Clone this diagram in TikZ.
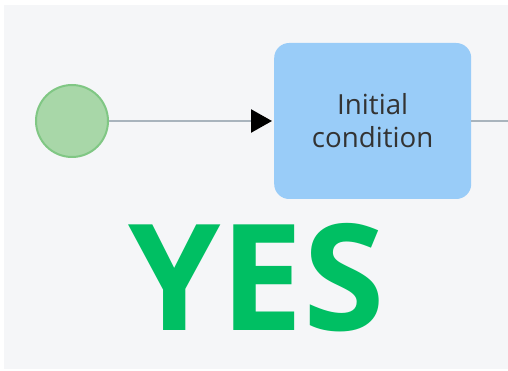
\documentclass[tikz,border=0pt]{standalone}
\usepackage{fontspec}
\setmainfont{Open Sans}
\usetikzlibrary{arrows.meta,positioning}
\definecolor{bgGrey}{HTML}{F5F6F8}
\definecolor{startFill}{HTML}{A8D7A8}
\definecolor{startDraw}{HTML}{80C784}
\definecolor{taskFill}{HTML}{99CCF8}
\definecolor{flowGrey}{HTML}{A9B4BD}
\definecolor{yesGreen}{HTML}{00BF63}

\begin{document}
\begin{tikzpicture}[x=1pt, y=-1pt,
    start/.style={circle, draw=startDraw, fill=startFill, line width=2pt,
      minimum size=72pt, inner sep=0pt},
    task/.style={rectangle, rounded corners=15pt, fill=taskFill,
      minimum width=197pt, minimum height=156pt, align=center,
      text=black!80, font=\fontsize{27.7}{33}\selectfont},
    flow/.style={draw=flowGrey, line width=2.5pt},
    >={Triangle[length=21pt,width=23pt,color=black]}]
    \useasboundingbox (0,0) rectangle (508,371);
    \fill[bgGrey] (4,5) rectangle (508,369);
    \node [start]                         (S) at (72,121) {};
    \node [task, right=165pt of S]        (T) {Initial\\condition};
    \coordinate (E) at (508,121);
    \draw [flow, ->, shorten >=2pt] (S) -- (T);
    \draw [flow] (T) -- (E);
    \node [anchor=base, text=yesGreen, inner sep=0pt,
      font=\fontsize{148}{148}\bfseries\selectfont] (Y) at (256.5,330) {YES};
  \end{tikzpicture}
\end{document}
